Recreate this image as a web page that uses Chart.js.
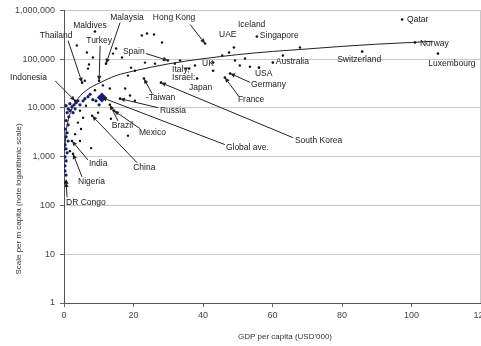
<!DOCTYPE html>
<html>
<head>
<meta charset="utf-8">
<script src="https://cdn.jsdelivr.net/npm/chart.js@4.4.1/dist/chart.umd.min.js"></script>
<style>
  html, body { margin: 0; padding: 0; background: #fff; overflow: hidden; }
  #wrap { width: 481px; height: 346px; overflow: hidden; }
</style>
</head>
<body>
<div id="wrap"><canvas id="chart" width="500" height="346"></canvas></div>
<script>
// Labelled countries: GDP per capita (USD'000) and scale per m capita
const countries = ['Qatar', 'Norway', 'Luxembourg', 'Switzerland', 'Australia', 'Singapore', 'Iceland', 'UAE',
  'Hong Kong', 'Malaysia', 'Maldives', 'Thailand', 'Turkey', 'Spain', 'UK', 'Italy', 'Israel', 'Japan', 'USA',
  'Germany', 'France', 'Taiwan', 'South Korea', 'Russia', 'Brazil', 'Mexico', 'China', 'India', 'Nigeria',
  'DR Congo', 'Indonesia'];
const gdp = [97.3, 101, 107.6, 85.8, 60.1, 55.5, 48.9, 47.5,
  40.6, 12.1, 8.9, 5.2, 10.1, 29.9, 42.9, 36, 38.3, 42.9, 56.1,
  47.8, 46.3, 23, 27.9, 16.1, 13.2, 14.4, 8.1, 2.3, 2.6,
  0.6, 3.2];
const scale = [650000, 220000, 130000, 143000, 85000, 292000, 173000, 137000,
  209000, 81000, 370000, 33000, 36000, 94000, 85000, 64000, 40000, 58000, 67000,
  51000, 42000, 40000, 33000, 15500, 11600, 8800, 6900, 2100, 1140,
  300, 14000];

// Other (unlabelled) countries
const otherGdp = [6.6, 8.3, 7.2, 6.9, 14.1, 15, 16.7, 19.3, 22.4, 23.9, 25.9, 28.2, 18.4, 20.4, 23.3, 26.2,
  31.9, 33.4, 35.1, 37.7, 45.5, 49.2, 50.6, 52.1, 53.5, 63, 67.9, 3.7, 6.0, 8.9, 11.2, 13.2, 17.6, 19, 20.4,
  5.5, 4.0, 4.9, 7.8, 13.5, 18.4, 6.3, 9.8, 4.6, 3.2, 1.7, 4.6];
const otherScale = [137000, 108000, 78000, 64000, 130000, 165000, 108000, 67000, 306000, 337000, 321000, 220000,
  46000, 58000, 85000, 81000, 81000, 94000, 64000, 74000, 119000, 94000, 74000, 103000, 70000, 119000, 173000,
  190000, 36000, 23000, 29000, 25000, 25000, 18000, 14000, 6300, 5000, 3700, 1500, 6000, 2700, 11100, 8000,
  8800, 2900, 1300, 2100];

// Low-income cluster near the axis
const lowGdp = [0.6, 1.2, 1.7, 2.3, 2.9, 3.5, 4.0, 0.9, 1.4, 0.6, 1.2, 0.3, 0.9, 0.6, 1.2, 0.3, 0.6, 0.9, 0.3,
  0.6, 0.3, 0.3, 0.6, 1.7, 2.6, 3.2, 4.6, 5.5, 6.0, 6.9, 7.5, 8.3, 9.2, 10.1];
const lowScale = [11100, 9600, 12200, 10600, 11600, 12800, 14000, 8000, 6600, 5500, 4500, 3700, 3100, 2550, 2100,
  1750, 1450, 1200, 990, 820, 650, 510, 420, 8800, 8000, 9600, 11600, 14000, 15500, 17000, 19000, 14800, 14000,
  11600];

const globalGdp = [10.9];
const globalScale = [16300];

// Trend line
const trendGdp = [0.2, 0.5, 1, 2, 4, 7, 10, 15, 20, 30, 40, 50, 60, 70, 80, 90, 100, 106];
const trendScale = [1300, 2700, 4800, 8600, 15500, 24500, 32000, 46000, 57000, 80000, 102000, 124000, 144000,
  162000, 183000, 203000, 220000, 232000];

const yTicks = [1, 10, 100, 1000, 10000, 100000, 1000000];

// label offsets (px) from the point, optional arrow start offset
const labelLayout = [
  { name: 'Qatar', dx: 5, dy: 0 },
  { name: 'Norway', dx: 5, dy: 1 },
  { name: 'Luxembourg', dx: 14, dy: 10, align: 'center' },
  { name: 'Switzerland', dx: -3, dy: 8, align: 'center' },
  { name: 'Australia', dx: 3, dy: -1 },
  { name: 'Singapore', dx: 3, dy: -1 },
  { name: 'Iceland', dx: 4, dy: -23 },
  { name: 'UAE', dx: -10, dy: -18 },
  { name: 'Hong Kong', dx: -31, dy: -26, align: 'center', ax: -15, ay: -19 },
  { name: 'Malaysia', dx: 21, dy: -46, align: 'center', ax: 14, ay: -41 },
  { name: 'Maldives', dx: -5, dy: -6, align: 'center' },
  { name: 'Thailand', dx: -26, dy: -47, align: 'center', ax: -14, ay: -42 },
  { name: 'Turkey', dx: 0, dy: -40, align: 'center', ax: 1, ay: -35 },
  { name: 'Spain', dx: -45, dy: -9, ax: -22, ay: -7 },
  { name: 'UK', dx: -11, dy: 1 },
  { name: 'Italy', text: 'Italy,', dx: -17, dy: 1 },
  { name: 'Israel', text: 'Israel:', dx: -25, dy: -1 },
  { name: 'Japan', dx: -24, dy: 17 },
  { name: 'USA', dx: -4, dy: 6 },
  { name: 'Germany', dx: 21, dy: 11, ax: 20, ay: 9 },
  { name: 'France', dx: 13, dy: 22, ax: 14, ay: 19 },
  { name: 'Taiwan', text: '-Taiwan', dx: 2, dy: 19, ax: 8, ay: 15 },
  { name: 'South Korea', dx: 134, dy: 58, ax: 132, ay: 55 },
  { name: 'Russia', dx: 40, dy: 12, ax: 38, ay: 9 },
  { name: 'Brazil', dx: 2, dy: 21, ax: 8, ay: 16 },
  { name: 'Mexico', dx: 25, dy: 22, ax: 26, ay: 18 },
  { name: 'China', dx: 41, dy: 52, ax: 45, ay: 47 },
  { name: 'India', dx: 17, dy: 23, ax: 16, ay: 19 },
  { name: 'Nigeria', dx: 5, dy: 28, ax: 9, ay: 23 },
  { name: 'DR Congo', dx: 0, dy: 20, ax: 1, ay: 15 },
  { name: 'Indonesia', dx: -65, dy: -23, ax: -20, ay: -20 },
  { name: 'Global ave.', global: true, dx: 124, dy: 50, ax: 123, ay: 47 }
];

const FONT = '"Liberation Sans", Arial, sans-serif';

function toPoints(xs, ys) {
  return xs.map((v, i) => ({ x: v, y: ys[i] }));
}

function drawArrow(ctx, x1, y1, x2, y2) {
  const ang = Math.atan2(y2 - y1, x2 - x1);
  const len = 5, w = 2.2;
  ctx.beginPath();
  ctx.moveTo(x1, y1);
  ctx.lineTo(x2 - Math.cos(ang) * len, y2 - Math.sin(ang) * len);
  ctx.stroke();
  ctx.beginPath();
  ctx.moveTo(x2, y2);
  ctx.lineTo(x2 - Math.cos(ang) * len - Math.sin(ang) * w, y2 - Math.sin(ang) * len + Math.cos(ang) * w);
  ctx.lineTo(x2 - Math.cos(ang) * len + Math.sin(ang) * w, y2 - Math.sin(ang) * len - Math.cos(ang) * w);
  ctx.closePath();
  ctx.fill();
}

const labelPlugin = {
  id: 'countryLabels',
  afterDatasetsDraw(chart) {
    const { ctx, chartArea, scales: { x, y } } = chart;
    ctx.save();
    // right border of plot
    ctx.strokeStyle = '#c8c8c8';
    ctx.lineWidth = 1;
    ctx.beginPath();
    ctx.moveTo(chartArea.right - 0.5, chartArea.top);
    ctx.lineTo(chartArea.right - 0.5, chartArea.bottom);
    ctx.stroke();

    ctx.font = '8.5px ' + FONT;
    ctx.fillStyle = '#222';
    ctx.strokeStyle = '#222';
    ctx.lineWidth = 1;
    ctx.textBaseline = 'middle';
    labelLayout.forEach(l => {
      let gx, gy;
      if (l.global) { gx = globalGdp[0]; gy = globalScale[0]; }
      else {
        const i = countries.indexOf(l.name);
        gx = gdp[i]; gy = scale[i];
      }
      const px = x.getPixelForValue(gx);
      const py = y.getPixelForValue(gy);
      if (l.ax !== undefined) drawArrow(ctx, px + l.ax, py + l.ay, px, py);
      ctx.textAlign = l.align || 'left';
      ctx.fillText(l.text || l.name, px + l.dx, py + l.dy);
    });

    // axis titles
    ctx.fillStyle = '#333';
    ctx.font = '8px ' + FONT;
    ctx.textAlign = 'center';
    ctx.fillText('GDP per capita (USD\'000)', 285, 337);
    ctx.translate(19, 199);
    ctx.rotate(-Math.PI / 2);
    ctx.fillText('Scale per m capita (note logarithmic scale)', 0, 0);
    ctx.restore();
  }
};

const chart = new Chart(document.getElementById('chart').getContext('2d'), {
  type: 'scatter',
  data: {
    datasets: [
      {
        label: 'Trend',
        data: toPoints(trendGdp, trendScale),
        showLine: true,
        borderColor: '#222',
        borderWidth: 1,
        pointRadius: 0,
        cubicInterpolationMode: 'monotone',
        order: 5
      },
      {
        label: 'Low income',
        data: toPoints(lowGdp, lowScale),
        backgroundColor: '#1c1c6e',
        borderWidth: 0,
        pointRadius: 1.6
      },
      {
        label: 'Other',
        data: toPoints(otherGdp, otherScale),
        backgroundColor: '#111',
        borderWidth: 0,
        pointRadius: 1.2
      },
      {
        label: 'Countries',
        data: toPoints(gdp, scale),
        backgroundColor: '#111',
        borderWidth: 0,
        pointRadius: ctx => countries[ctx.dataIndex] === 'DR Congo' ? 3 : 1.3,
        pointStyle: ctx => countries[ctx.dataIndex] === 'DR Congo' ? 'triangle' : 'circle'
      },
      {
        label: 'Global ave.',
        data: toPoints(globalGdp, globalScale),
        backgroundColor: '#1a1a80',
        borderWidth: 0,
        pointRadius: 5,
        pointStyle: 'rectRot'
      }
    ]
  },
  options: {
    responsive: false,
    animation: false,
    events: [],
    layout: { padding: { top: 10, right: 19, left: 0, bottom: 0 } },
    plugins: { legend: { display: false }, tooltip: { enabled: false } },
    scales: {
      x: {
        type: 'linear',
        min: 0,
        max: 120,
        ticks: { stepSize: 20, color: '#444', font: { size: 9, family: FONT }, padding: 3 },
        grid: { drawOnChartArea: false, tickColor: '#666', tickLength: 4 },
        border: { color: '#555' },
        afterFit: s => { s.height = 43; }
      },
      y: {
        type: 'logarithmic',
        min: 1,
        max: 1000000,
        afterBuildTicks: s => { s.ticks = yTicks.map(v => ({ value: v })); },
        ticks: {
          color: '#444',
          font: { size: 9, family: FONT },
          padding: 5,
          callback: v => Number(v).toLocaleString('en-US')
        },
        grid: { color: '#c8c8c8', tickColor: '#666', tickLength: 4 },
        border: { color: '#555' },
        afterFit: s => { s.width = 64; }
      }
    }
  },
  plugins: [labelPlugin]
});
</script>
</body>
</html>
